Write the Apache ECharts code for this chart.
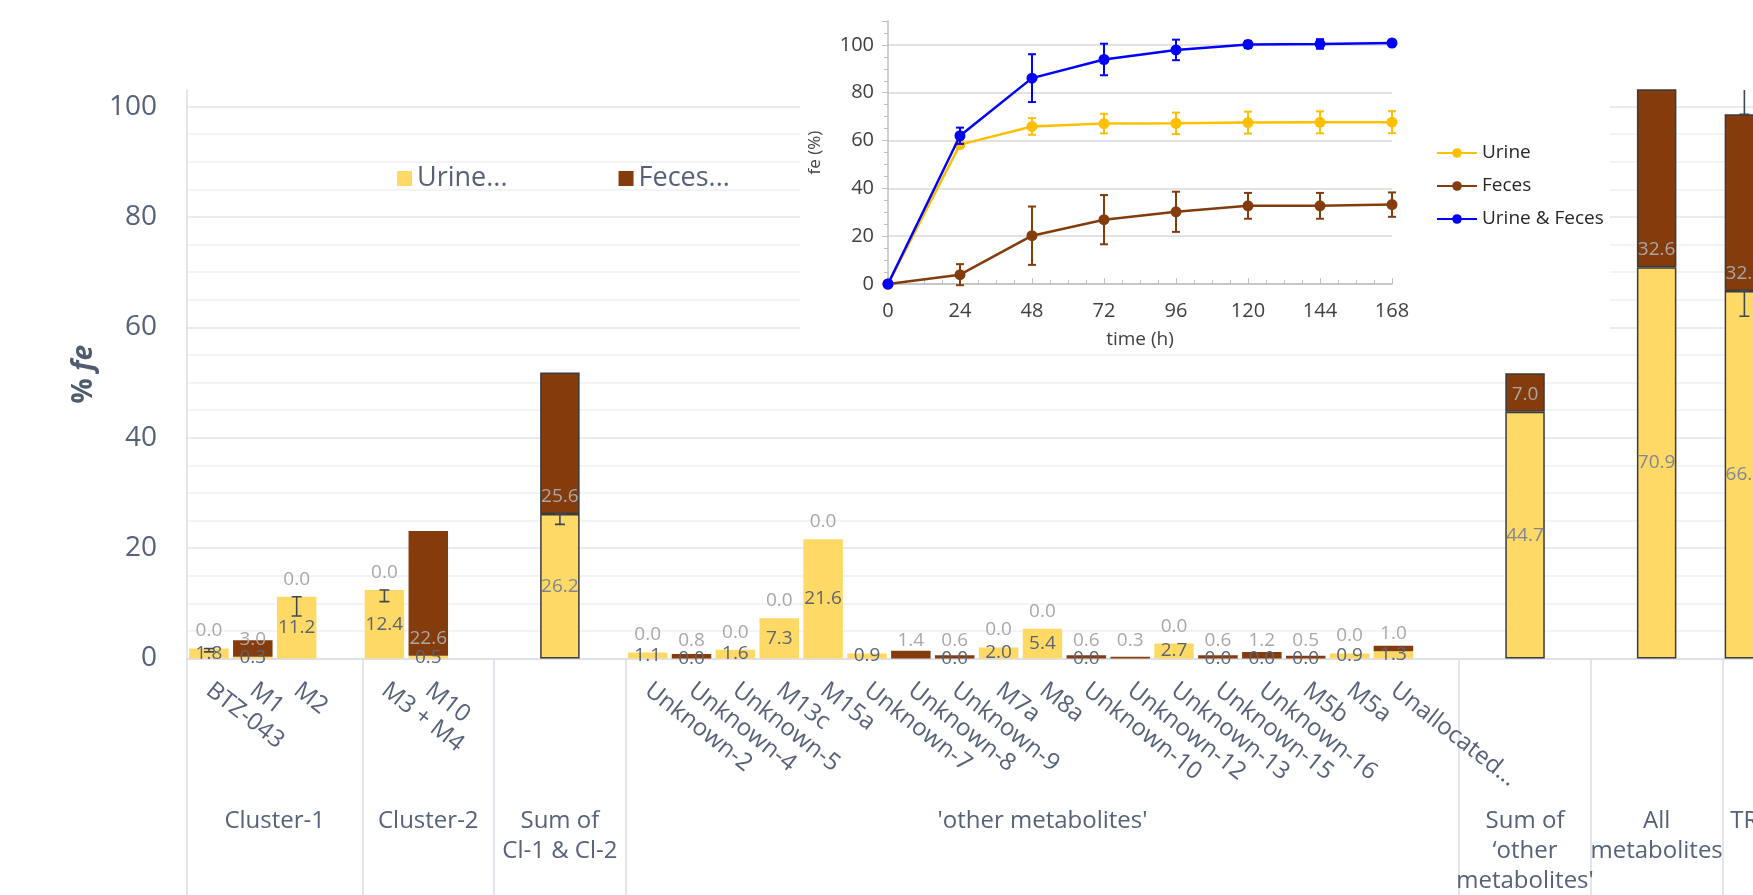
<!DOCTYPE html>
<html><head><meta charset="utf-8">
<script src="https://cdn.jsdelivr.net/npm/echarts@6/dist/echarts.min.js"></script>
<style>
html,body{margin:0;padding:0;background:#fff;}
#main{position:absolute;left:0;top:0;width:1753px;height:895px;}
#inset{position:absolute;left:800px;top:0;width:810px;height:348px;background:#fff;}
</style>
</head><body><div id="main"></div><div id="inset"></div>
<script>
// ---------- main chart data ----------
const categories = ['BTZ-043','M1','M2','','M3 + M4','M10','','','','',
  'Unknown-2','Unknown-4','Unknown-5','M13c','M15a','Unknown-7','Unknown-8','Unknown-9','M7a','M8a',
  'Unknown-10','Unknown-12','Unknown-13','Unknown-15','Unknown-16','M5b','M5a','Unallocated...',
  '','','','','','','',''];
const urine = [1.8,0.3,11.2,null,12.4,0.5,null,null,26.2,null,
  1.1,0.0,1.6,7.3,21.6,0.9,null,0.0,2.0,5.4,0.0,null,2.7,0.0,0.0,0.0,0.9,1.3,
  null,null,44.7,null,null,70.9,null,66.6];
const feces = [0.0,3.0,0.0,null,0.0,22.6,null,null,25.6,null,
  0.0,0.8,0.0,0.0,0.0,null,1.4,0.6,0.0,0.0,0.6,0.3,0.0,0.6,1.2,0.5,0.0,1.0,
  null,null,7.0,null,null,32.6,null,32.0];
const urineErr = [0.6,null,3.5,null,2.1,null,null,null,1.9,null,
  null,null,null,null,null,null,null,null,null,null,null,null,null,null,null,null,null,null,
  null,null,null,null,null,null,null,4.6];
const fecesErr = [null,null,null,null,null,null,null,null,null,null,
  null,null,null,null,null,null,null,null,null,null,null,null,null,null,null,null,null,null,
  null,null,null,null,null,null,null,6.0];
const groupNames = ['Cluster-1','Cluster-2','Sum of\nCl-1 & Cl-2',"'other metabolites'",
  'Sum of\n\u2018other\nmetabolites\'','All\nmetabolites','TR'];
const groupSizes = [4,3,3,19,3,3,1];
const yTicks = [0,20,40,60,80,100];

// ---------- inset data ----------
const times = [0,24,48,72,96,120,144,168];
const urineCum = [0,58.3,65.9,67.1,67.2,67.5,67.6,67.7];
const urineCumErr = [0,0,3.5,4.1,4.5,4.6,4.6,4.6];
const fecesCum = [0,3.9,20.2,26.9,30.2,32.7,32.7,33.2];
const fecesCumErr = [0,4.4,12.2,10.3,8.4,5.4,5.4,5.1];
const totalCum = [0,62.0,86.1,93.9,97.9,100.2,100.4,100.8];
const totalCumErr = [0,3.4,10.0,6.6,4.3,1.5,2.0,1.3];

const FONT = '"Open Sans", sans-serif';
const SLATE = '#56617a';
const YELLOW = '#FFD966', BROWN = '#843C0C';

function errRender(halfCap, lw){
  return function(params, api){
    const x = api.value(0), lo = api.value(1), hi = api.value(2);
    const p1 = api.coord([x, hi]), p2 = api.coord([x, lo]);
    const style = {stroke: api.visual('color'), lineWidth: lw};
    return {type:'group', children:[
      {type:'line', shape:{x1:p1[0],y1:p1[1],x2:p2[0],y2:p2[1]}, style},
      {type:'line', shape:{x1:p1[0]-halfCap,y1:p1[1],x2:p1[0]+halfCap,y2:p1[1]}, style},
      {type:'line', shape:{x1:p2[0]-halfCap,y1:p2[1],x2:p2[0]+halfCap,y2:p2[1]}, style}
    ]};
  };
}

const isTotal = i => categories[i] === '' && urine[i] != null;
const fmt = p => (+p.value).toFixed(1);

const urineData = urine.map((v,i) => v == null ? null : {
  value: v,
  itemStyle: isTotal(i) ? {borderColor:'#3b3b3b', borderWidth:1.5} : {},
  label: isTotal(i) ? {color:'#7d8796'} : {}
});
const fecesData = feces.map((v,i) => v == null ? null : {
  value: v,
  itemStyle: isTotal(i) ? {borderColor:'#3b3b3b', borderWidth:1.5} : {}
});
const errData = [];
urineErr.forEach((e,i) => { if (e != null) errData.push([i, urine[i]-e, urine[i]]); });
fecesErr.forEach((e,i) => { if (e != null) { const t = (urine[i]||0)+(feces[i]||0); errData.push([i, t, t+e]); } });

// group boundaries / centres
const bounds = [0]; groupSizes.forEach(s => bounds.push(bounds[bounds.length-1]+s));
const centres = groupSizes.map((s,k) => bounds[k] + s/2);
const centreName = {}; centres.forEach((c,k) => centreName[c.toFixed(2)] = groupNames[k]);
const nCat = categories.length;
const band = 43.87;

const main = echarts.init(document.getElementById('main'));
main.setOption({
  animation:false,
  textStyle:{fontFamily:FONT},
  grid:{left:187, top:90, width: band*nCat, height:568.5, containLabel:false, outerBoundsMode:'none'},
  legend:{data:['Urine...','Feces...'], icon:'rect', left:392, top:160, itemWidth:15, itemHeight:15,
    itemGap:111, textStyle:{fontFamily:FONT, fontSize:27, color:SLATE}},
  xAxis:[{
    type:'category', data:categories, gridIndex:0,
    axisTick:{show:false},
    axisLine:{lineStyle:{color:'#d9dee6', width:1.5}},
    axisLabel:{interval:0, rotate:-38, fontFamily:FONT, fontSize:24, color:SLATE, margin:29}
  },{
    type:'value', gridIndex:0, position:'bottom', min:0, max:nCat,
    axisLine:{show:false}, splitLine:{show:false},
    axisTick:{show:true, customValues: bounds.slice(0, bounds.length-1), length:240, lineStyle:{color:'#d9dee6', width:1.5}},
    axisLabel:{customValues: centres, formatter: v => centreName[(+v).toFixed(2)] || '',
      fontFamily:FONT, fontSize:24, lineHeight:30, color:SLATE, verticalAlign:'top', align:'center', margin:148}
  }],
  yAxis:{
    type:'value', min:0, max:103, interval:5,
    axisLine:{show:true, lineStyle:{color:'#d9dee6', width:1.5}},
    axisTick:{show:false},
    axisLabel:{fontFamily:FONT, fontSize:28, color:SLATE, margin:30,
      formatter: v => yTicks.indexOf(v) >= 0 ? String(v) : ''},
    splitLine:{show:true, showMaxLine:false,
      lineStyle:{color:['#e0e4eb','#eff1f5','#eff1f5','#eff1f5'], width:1.5}},
    name:'{p|% }{f|fe}', nameLocation:'middle', nameGap:89, nameRotate:90,
    nameTextStyle:{rich:{
      p:{fontFamily:FONT, fontSize:28, fontWeight:'bold', color:'#4f5b6e'},
      f:{fontFamily:FONT, fontSize:28, fontWeight:'bold', fontStyle:'italic', color:'#4f5b6e'}}}
  },
  series:[
    {name:'Urine...', type:'bar', stack:'s', xAxisIndex:0, barWidth:'90%', data:urineData,
      itemStyle:{color:YELLOW},
      label:{show:true, position:'inside', formatter:fmt, fontFamily:FONT, fontSize:19, color:'#5b6474'}},
    {name:'Feces...', type:'bar', stack:'s', xAxisIndex:0, barWidth:'90%', data:fecesData,
      itemStyle:{color:BROWN},
      label:{show:true, position:'insideBottom', distance:8, formatter:fmt, fontFamily:FONT, fontSize:19, color:'#a8a8a8'}},
    {name:'err', type:'custom', xAxisIndex:0, data:errData, renderItem:errRender(5,1.6),
      itemStyle:{color:'#3e4756'}, encode:{x:0, y:[1,2]}, clip:true, z:5}
  ]
});

// ---------- inset ----------
const inset = echarts.init(document.getElementById('inset'));
const mkErr = (vals, errs) => times.map((t,i) => [t, vals[i]-errs[i], vals[i]+errs[i]]).filter((d,i) => errs[i] > 0);
const axisText = {fontFamily:FONT, fontSize:20, color:'#404040'};
inset.setOption({
  animation:false,
  textStyle:{fontFamily:FONT},
  grid:{left:88, top:21, width:504, height:263, containLabel:false, outerBoundsMode:'none'},
  legend:{data:['Urine','Feces','Urine & Feces'], orient:'vertical', left:631, top:138,
    itemWidth:40, itemHeight:12, itemGap:13, textStyle:{fontFamily:FONT, fontSize:19, color:'#262626', lineHeight:20}},
  xAxis:{type:'value', min:0, max:168, interval:24,
    axisLine:{lineStyle:{color:'#bfbfbf', width:1.5}},
    axisTick:{show:true, inside:true, length:6, lineStyle:{color:'#bfbfbf'}},
    minorTick:{show:true, splitNumber:4, length:4, lineStyle:{color:'#bfbfbf'}},
    splitLine:{show:false},
    axisLabel:Object.assign({margin:17}, axisText),
    name:'time (h)', nameLocation:'middle', nameGap:46, nameTextStyle:Object.assign({}, axisText, {fontSize:19})},
  yAxis:{type:'value', min:0, max:110, interval:20,
    axisLine:{show:true, lineStyle:{color:'#bfbfbf', width:1.5}},
    axisTick:{show:true, length:6, lineStyle:{color:'#bfbfbf'}},
    minorTick:{show:true, splitNumber:4, length:4, lineStyle:{color:'#bfbfbf'}},
    splitLine:{show:true, showMaxLine:false, lineStyle:{color:'#d9d9d9', width:1.5}},
    axisLabel:Object.assign({margin:14, showMaxLabel:false}, axisText),
    name:'fe (%)', nameLocation:'middle', nameGap:64, nameTextStyle:Object.assign({}, axisText, {fontSize:17})},
  series:[
    {name:'Urine', type:'line', data:times.map((t,i)=>[t,urineCum[i]]), color:'#FFC000',
      symbol:'circle', symbolSize:11, lineStyle:{width:2.5}},
    {name:'Feces', type:'line', data:times.map((t,i)=>[t,fecesCum[i]]), color:BROWN,
      symbol:'circle', symbolSize:11, lineStyle:{width:2.5}},
    {name:'Urine & Feces', type:'line', data:times.map((t,i)=>[t,totalCum[i]]), color:'#0000FF',
      symbol:'circle', symbolSize:11, lineStyle:{width:2.5}, z:4},
    {type:'custom', data:mkErr(urineCum,urineCumErr), renderItem:errRender(4,2), itemStyle:{color:'#FFC000'}, encode:{x:0,y:[1,2]}, z:3},
    {type:'custom', data:mkErr(fecesCum,fecesCumErr), renderItem:errRender(4,2), itemStyle:{color:BROWN}, encode:{x:0,y:[1,2]}, z:3},
    {type:'custom', data:mkErr(totalCum,totalCumErr), renderItem:errRender(4,2), itemStyle:{color:'#0000FF'}, encode:{x:0,y:[1,2]}, z:5}
  ]
});
</script>
</body></html>
